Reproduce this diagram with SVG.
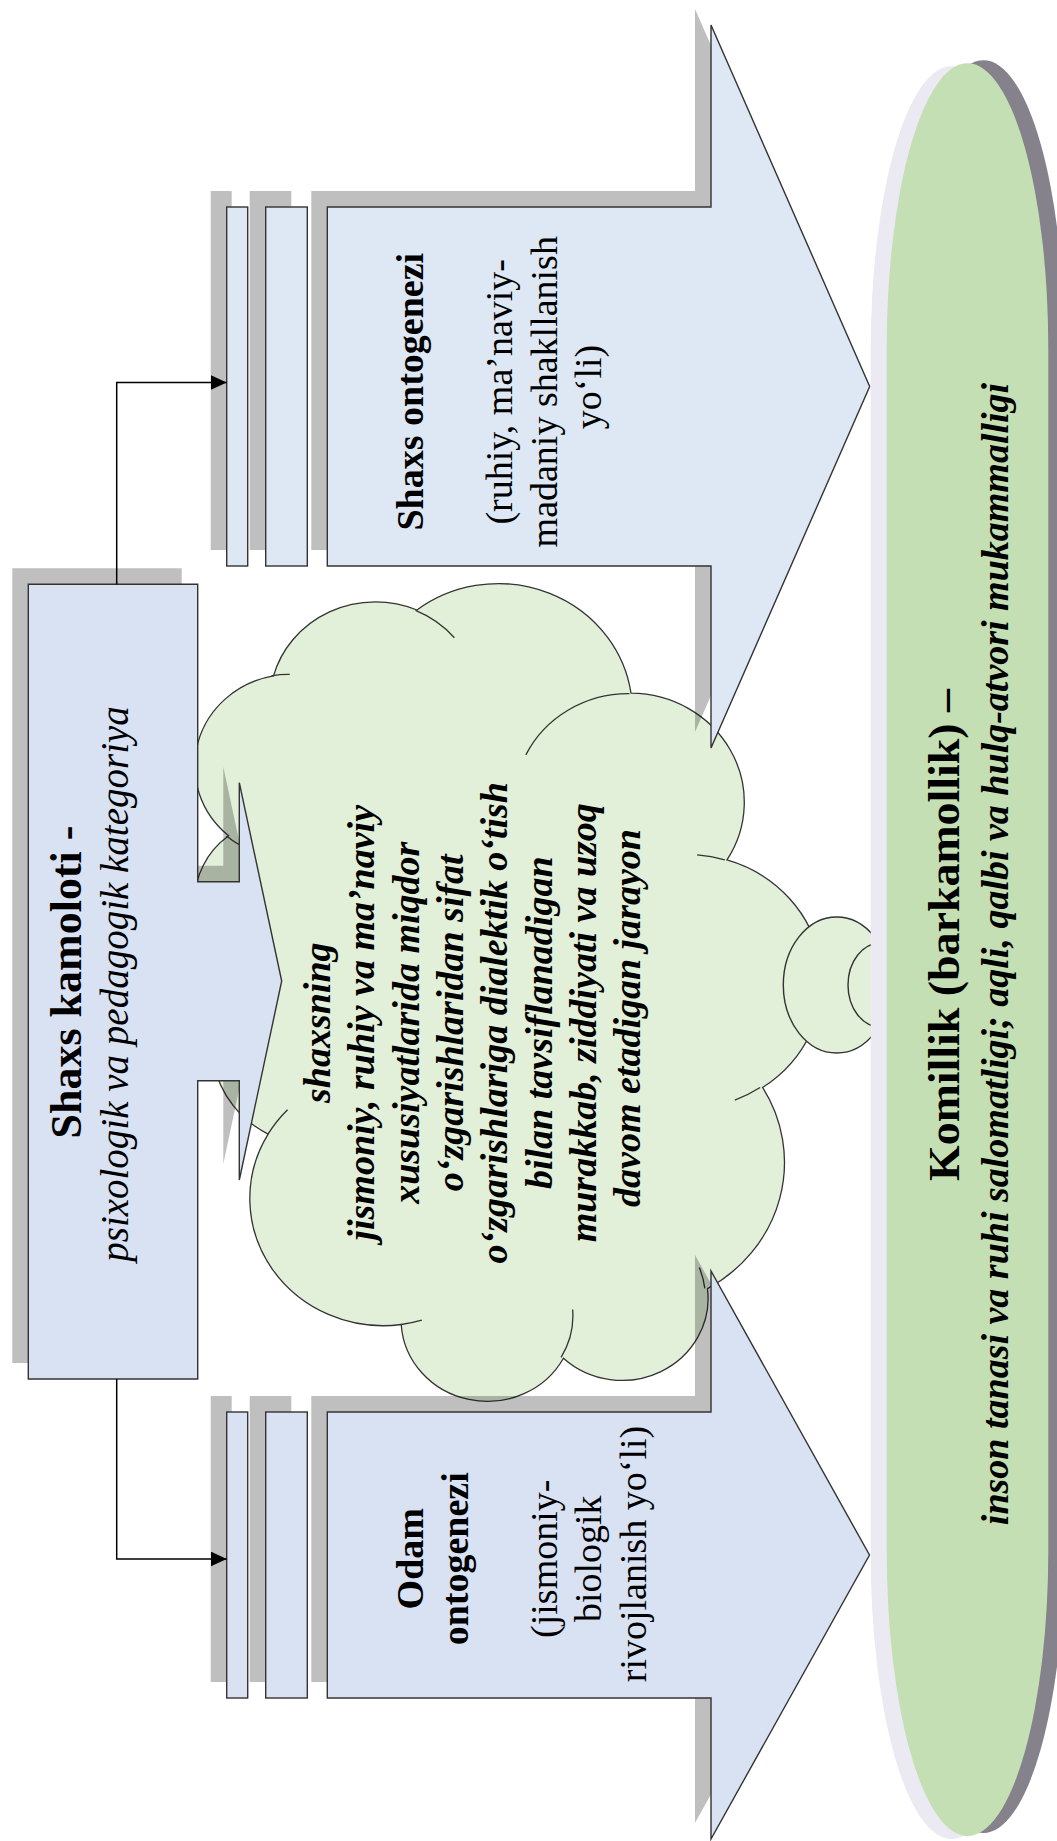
<svg xmlns="http://www.w3.org/2000/svg" width="1057" height="1841" viewBox="0 0 1057 1841">
<defs>
<style>
.txt{font-family:"Liberation Serif","Times New Roman",serif;fill:#000}
.b{font-weight:bold}
.i{font-style:italic}
.shadow{fill:#000;fill-opacity:0.25}
.outline{stroke:#333;stroke-width:1.4;stroke-linejoin:miter}
.cloudfill{fill:#e2efd9}
.cl{stroke:#333;stroke-width:1.3;vector-effect:non-scaling-stroke}
.conn{fill:none;stroke:#000;stroke-width:1.5}
</style>
<marker id="arr" markerUnits="userSpaceOnUse" markerWidth="17" markerHeight="16" refX="16" refY="7.5" orient="auto">
<path d="M0,0 L16,7.5 L0,15 Z" fill="#000"/>
</marker>
</defs>
<rect width="1057" height="1841" fill="#fff"/>

<g id="cloud">
<g transform="matrix(0 -0.018843 0.014518 0 192.6 1398)">
<path class="cloudfill cl" d="M3900 14370 A6753 9190 0 0 1 14005 5202 A5333 7267 0 0 1 22456 3429 A4365 5945 0 0 1 29834 2479 A4857 6595 0 0 1 38320 5574 A5333 7273 0 0 1 41820 15457 A6775 9220 0 0 1 37404 30197 A5785 7867 0 0 1 28557 36808 A6752 9215 0 0 1 16481 39261 A7720 10543 0 0 1 5803 35465 A4360 5918 0 0 1 2112 25543 A4345 5945 0 0 1 3900 14370 Z"/>
<path class="cl" fill="none" d="M4693 26177 A4345 5945 0 0 1 2159 25380 M6928 34899 A4360 5918 0 0 1 5819 35281 M16478 39090 A6752 9215 0 0 1 15810 37349 M28827 34751 A6752 9215 0 0 1 28561 36659 M34129 22954 A5785 7867 0 0 1 37381 30090 M41798 15354 A5333 7273 0 0 1 40349 18031 M38324 5426 A4857 6595 0 0 1 38400 6690 M29078 3952 A4857 6595 0 0 1 29820 2339 M22141 4720 A4365 5945 0 0 1 22500 3332 M14000 5192 A6753 9190 0 0 1 15301 6541 M4127 15789 A6753 9190 0 0 1 3900 14370"/>
</g>
<ellipse class="cloudfill outline" cx="836.7" cy="985" rx="53.4" ry="68"/>
<ellipse class="cloudfill outline" cx="880.5" cy="985" rx="32.5" ry="42"/>
<text class="txt b i" font-size="38" text-anchor="middle" transform="translate(330,1018) rotate(-90)">
<tspan x="0" y="0">shaxsning</tspan>
<tspan x="0" y="44.3">jismoniy, ruhiy va ma’naviy</tspan>
<tspan x="0" y="88.6">xususiyatlarida miqdor</tspan>
<tspan x="0" y="132.9">o‘zgarishlaridan sifat</tspan>
<tspan x="0" y="177.2">o‘zgarishlariga dialektik o‘tish</tspan>
<tspan x="0" y="221.5">bilan tavsiflanadigan</tspan>
<tspan x="0" y="265.8">murakkab, ziddiyati va uzoq</tspan>
<tspan x="0" y="310.1">davom etadigan jarayon</tspan>
</text>
</g>

<g id="arrow-shaxs">
<g class="shadow" transform="translate(-16,-16)">
<polygon points="327.3,207 711,207 711,25 869.7,386.5 711,748 711,566 327.3,566"/>
<rect x="226.7" y="207" width="21" height="359"/>
<rect x="265.7" y="207" width="41.6" height="359"/>
</g>
<polygon class="outline" fill="#dde8f4" points="327.3,207 711,207 711,25 869.7,386.5 711,748 711,566 327.3,566"/>
<rect class="outline" fill="#dde8f4" x="226.7" y="207" width="21" height="359"/>
<rect class="outline" fill="#dde8f4" x="265.7" y="207" width="41.6" height="359"/>
<text class="txt" font-size="38" text-anchor="middle" transform="translate(423,387) rotate(-90)">
<tspan class="b" x="0" y="0">Shaxs ontogenezi</tspan>
<tspan x="0" y="89">(ruhiy, ma’naviy-</tspan>
<tspan x="0" y="133.5">madaniy shakllanish</tspan>
<tspan x="0" y="178">yo‘li)</tspan>
</text>
</g>

<g id="arrow-odam">
<g class="shadow" transform="translate(-16,-16)">
<polygon points="327.3,1412 711,1412 711,1271 869.5,1555 711,1839 711,1698 327.3,1698"/>
<rect x="226.7" y="1412" width="21" height="286"/>
<rect x="265.7" y="1412" width="41.6" height="286"/>
</g>
<polygon class="outline" fill="#d9e2f3" points="327.3,1412 711,1412 711,1271 869.5,1555 711,1839 711,1698 327.3,1698"/>
<rect class="outline" fill="#d9e2f3" x="226.7" y="1412" width="21" height="286"/>
<rect class="outline" fill="#d9e2f3" x="265.7" y="1412" width="41.6" height="286"/>
<text class="txt" font-size="38" text-anchor="middle" transform="translate(423,1554) rotate(-90)">
<tspan class="b" x="0" y="0">Odam</tspan>
<tspan class="b" x="0" y="44.5">ontogenezi</tspan>
<tspan x="0" y="133.5">(jismoniy-</tspan>
<tspan x="0" y="178">biologik</tspan>
<tspan x="0" y="222.5">rivojlanish yo‘li)</tspan>
</text>
</g>

<g id="box-kamolot">
<polygon class="shadow" transform="translate(-16,-16)" points="28.3,584.3 197.7,584.3 197.7,881.7 239.3,881.7 239.3,782.7 281.7,981 239.3,1180 239.3,1080.7 197.7,1080.7 197.7,1379 28.3,1379"/>
<polygon class="outline" fill="#d9e2f3" points="28.3,584.3 197.7,584.3 197.7,881.7 239.3,881.7 239.3,782.7 281.7,981 239.3,1180 239.3,1080.7 197.7,1080.7 197.7,1379 28.3,1379"/>
<text class="txt b" font-size="44" text-anchor="middle" transform="translate(81,982) rotate(-90)">Shaxs kamoloti -</text>
<text class="txt i" font-size="39" text-anchor="middle" transform="translate(128,984) rotate(-90)">psixologik va pedagogik kategoriya</text>
</g>

<g id="komillik">
<path fill="#ebe9f1" transform="translate(-16,3)" d="M886.7 348.3 A80.8 285 0 0 1 1048.3 348.3 V1551 A80.8 285 0 0 1 886.7 1551 Z"/>
<path fill="#86828c" transform="translate(16,-3)" d="M886.7 348.3 A80.8 285 0 0 1 1048.3 348.3 V1551 A80.8 285 0 0 1 886.7 1551 Z"/>
<path fill="#c4dfb3" d="M886.7 348.3 A80.8 285 0 0 1 1048.3 348.3 V1551 A80.8 285 0 0 1 886.7 1551 Z"/>
<text class="txt b" font-size="44" text-anchor="middle" textLength="492" lengthAdjust="spacingAndGlyphs" transform="translate(959,935) rotate(-90)">Komillik (barkamollik) –</text>
<text class="txt b i" font-size="38" text-anchor="middle" transform="translate(1008,954) rotate(-90)">inson tanasi va ruhi salomatligi; aqli, qalbi va hulq-atvori mukammalligi</text>
</g>

<g id="connectors">
<path class="conn" d="M116.7 584.3 V382.5 H226.7" marker-end="url(#arr)"/>
<path class="conn" d="M116.7 1379 V1559 H226.7" marker-end="url(#arr)"/>
</g>
</svg>
